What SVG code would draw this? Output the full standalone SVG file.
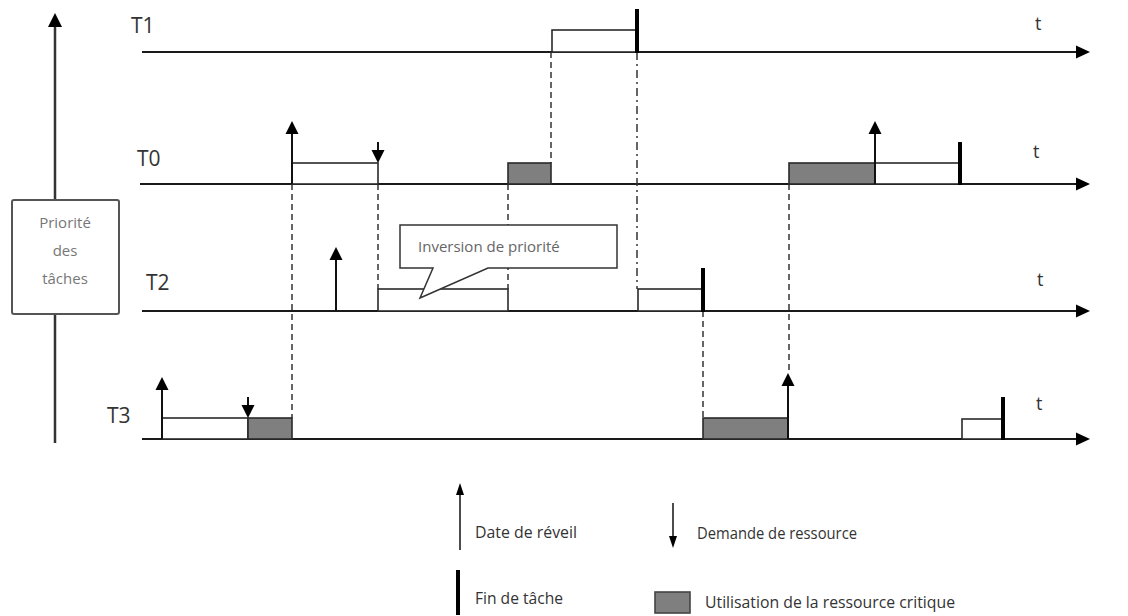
<svg xmlns="http://www.w3.org/2000/svg" width="1128" height="616" viewBox="0 0 1128 616">
  <style>
    .axis { stroke: #1a1a1a; stroke-width: 2; fill: none; }
    .box { stroke: #2a2a2a; stroke-width: 1.6; fill: #fff; }
    .crit { stroke: #2a2a2a; stroke-width: 1.6; fill: #7f7f7f; }
    .shaft { stroke: #111; stroke-width: 2; }
    .thin { stroke: #111; stroke-width: 1.5; }
    .endbar { stroke: #000; stroke-width: 4; }
    .dash { stroke: #333; stroke-width: 1.5; stroke-dasharray: 6 4; fill: none; }
    .dashdot { stroke: #333; stroke-width: 1.5; stroke-dasharray: 8 4 2 4; fill: none; }
    .lbl { font-family: "Open Sans", "Liberation Sans", sans-serif; fill: #333; }
    .task { font-size: 21px; }
    .tlbl { font-size: 18px; }
    .small { font-size: 15px; fill: #666; }
    .prio { font-size: 15px; fill: #777; }
    .legend { font-size: 17px; fill: #333; }
  </style>
  <defs>
    <path id="upHead" d="M0,0 L-6.5,13 L6.5,13 Z"/>
    <path id="downHead" d="M0,0 L-6.5,-13 L6.5,-13 Z"/>
    <path id="timeHead" d="M0,0 L-14,-6.5 L-14,6.5 Z"/>
  </defs>

  <!-- priority axis -->
  <g id="priority-axis">
    <line x1="55" y1="443" x2="55" y2="24" stroke="#333" stroke-width="2.5"/>
    <path d="M55,13 L48,27 L62,27 Z" fill="#000"/>
    <rect x="12" y="200" width="107" height="114" rx="2" fill="#fff" stroke="#555" stroke-width="2"/>
    <text class="lbl prio" x="65" y="228" text-anchor="middle">Priorité</text>
    <text class="lbl prio" x="65" y="256" text-anchor="middle">des</text>
    <text class="lbl prio" x="65" y="284" text-anchor="middle">tâches</text>
  </g>

  <!-- time axes -->
  <g id="timelines">
    <line class="axis" x1="142" y1="52" x2="1080" y2="52"/>
    <use href="#timeHead" x="1090" y="52"/>
    <line class="axis" x1="140" y1="184" x2="1080" y2="184"/>
    <use href="#timeHead" x="1090" y="184"/>
    <line class="axis" x1="142" y1="311" x2="1080" y2="311"/>
    <use href="#timeHead" x="1090" y="311"/>
    <line class="axis" x1="142" y1="439" x2="1080" y2="439"/>
    <use href="#timeHead" x="1090" y="439"/>
    <text class="lbl task" x="131" y="33">T1</text>
    <text class="lbl task" x="137" y="166">T0</text>
    <text class="lbl task" x="146" y="290">T2</text>
    <text class="lbl task" x="107" y="423">T3</text>
    <text class="lbl tlbl" x="1035" y="30">t</text>
    <text class="lbl tlbl" x="1033" y="158">t</text>
    <text class="lbl tlbl" x="1037" y="286">t</text>
    <text class="lbl tlbl" x="1036" y="410">t</text>
  </g>

  <!-- connectors between tasks -->
  <g id="connectors">
    <line class="dash" x1="551" y1="52" x2="551" y2="163"/>
    <line class="dashdot" x1="637" y1="52" x2="637" y2="289"/>
    <line class="dash" x1="292" y1="184" x2="292" y2="418"/>
    <line class="dash" x1="378" y1="184" x2="378" y2="289"/>
    <line class="dash" x1="508" y1="184" x2="508" y2="289"/>
    <line class="dash" x1="703" y1="311" x2="703" y2="418"/>
    <line class="dash" x1="789" y1="184" x2="789" y2="373"/>
  </g>

  <!-- T1 -->
  <g id="task-t1">
    <rect class="box" x="552" y="30" width="85" height="22"/>
    <line class="endbar" x1="637" y1="9" x2="637" y2="53"/>
  </g>

  <!-- T0 -->
  <g id="task-t0">
    <rect class="box" x="292" y="163" width="86" height="21"/>
    <line class="shaft" x1="292" y1="184" x2="292" y2="130"/>
    <use href="#upHead" x="292" y="121"/>
    <line class="shaft" x1="378" y1="142" x2="378" y2="152"/>
    <use href="#downHead" x="378" y="163"/>
    <rect class="crit" x="508" y="163" width="43" height="21"/>
    <rect class="crit" x="789" y="163" width="86" height="21"/>
    <rect class="box" x="875" y="163" width="85" height="21"/>
    <line class="shaft" x1="875" y1="184" x2="875" y2="130"/>
    <use href="#upHead" x="875" y="121"/>
    <line class="endbar" x1="960" y1="142" x2="960" y2="185"/>
  </g>

  <!-- T2 -->
  <g id="task-t2">
    <line class="shaft" x1="336" y1="311" x2="336" y2="256"/>
    <use href="#upHead" x="336" y="247"/>
    <rect class="box" x="378" y="289" width="130" height="22"/>
    <rect class="box" x="638" y="289" width="65" height="22"/>
    <line class="endbar" x1="703" y1="268" x2="703" y2="312"/>
  </g>

  <!-- callout -->
  <g id="callout">
    <path d="M400,225 H617 V268 H488 L420,298 L433,268 H400 Z" fill="#fff" stroke="#333" stroke-width="1.5"/>
    <text class="lbl small" x="418" y="252">Inversion de priorité</text>
  </g>

  <!-- T3 -->
  <g id="task-t3">
    <rect class="box" x="162" y="418" width="86" height="21"/>
    <line class="shaft" x1="162" y1="439" x2="162" y2="386"/>
    <use href="#upHead" x="162" y="377"/>
    <line class="shaft" x1="248" y1="397" x2="248" y2="408"/>
    <use href="#downHead" x="248" y="418"/>
    <rect class="crit" x="248" y="418" width="44" height="21"/>
    <rect class="crit" x="703" y="418" width="85" height="21"/>
    <line class="shaft" x1="788" y1="439" x2="788" y2="382"/>
    <use href="#upHead" x="788" y="373"/>
    <rect class="box" x="962" y="419" width="41" height="20"/>
    <line class="endbar" x1="1003" y1="397" x2="1003" y2="440"/>
  </g>

  <!-- legend -->
  <g id="legend">
    <line class="thin" x1="460" y1="550" x2="460" y2="492"/>
    <path d="M460,483 L456,495 L464,495 Z" fill="#000"/>
    <text class="lbl legend" x="475" y="538" textLength="102" lengthAdjust="spacingAndGlyphs">Date de réveil</text>
    <line class="thin" x1="673" y1="503" x2="673" y2="538"/>
    <path d="M673,548 L669,536 L677,536 Z" fill="#000"/>
    <text class="lbl legend" x="697" y="539" textLength="160" lengthAdjust="spacingAndGlyphs">Demande de ressource</text>
    <line class="endbar" x1="458" y1="570" x2="458" y2="615"/>
    <text class="lbl legend" x="475" y="604" textLength="88" lengthAdjust="spacingAndGlyphs">Fin de tâche</text>
    <rect x="655" y="592" width="35" height="21" fill="#7f7f7f" stroke="#444" stroke-width="1.6"/>
    <text class="lbl legend" x="705" y="608" textLength="250" lengthAdjust="spacingAndGlyphs">Utilisation de la ressource critique</text>
  </g>
</svg>
